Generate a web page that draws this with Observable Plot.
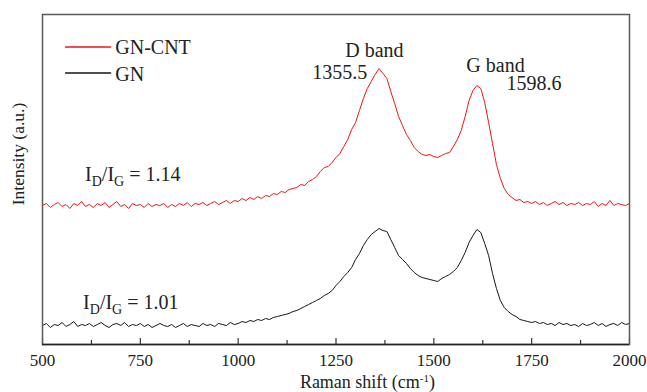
<!DOCTYPE html>
<html><head><meta charset="utf-8">
<script src="https://cdn.jsdelivr.net/npm/d3@7"></script>
<script src="https://cdn.jsdelivr.net/npm/@observablehq/plot@0.6"></script>
<style>body{margin:0;background:#fff} svg text{font-family:"Liberation Serif","DejaVu Serif","Noto Serif","Times New Roman",Times,serif !important;}</style>
</head><body><div id="chart"></div>
<script>
const shift = [
 500,510,520,530,540,550,560,570,580,590,
 600,610,620,630,640,650,660,670,680,690,
 700,710,720,730,740,750,760,770,780,790,
 800,810,820,830,840,850,860,870,880,890,
 900,910,920,930,940,950,960,970,980,990,
 1000,1010,1020,1030,1040,1050,1060,1070,1080,1090,
 1100,1110,1120,1130,1140,1150,1160,1170,1180,1190,
 1200,1210,1220,1230,1240,1250,1260,1270,1280,1290,
 1300,1310,1320,1330,1340,1350,1360,1370,1380,1390,
 1400,1410,1420,1430,1440,1450,1460,1470,1480,1490,
 1500,1510,1520,1530,1540,1550,1560,1570,1580,1590,
 1600,1610,1620,1630,1640,1650,1660,1670,1680,1690,
 1700,1710,1720,1730,1740,1750,1760,1770,1780,1790,
 1800,1810,1820,1830,1840,1850,1860,1870,1880,1890,
 1900,1910,1920,1930,1940,1950,1960,1970,1980,1990,
 2000];
const gnCnt = [
 139,141,137,140,142,138,140,136,141,139,
 143,138,140,137,141,139,142,137,140,143,
 138,140,136,141,139,140,137,141,138,140,
 139,141,137,140,138,141,139,142,138,141,
 140,142,139,141,143,140,142,144,141,144,
 143,146,144,147,145,148,146,149,148,151,
 150,153,152,155,156,157,160,159,163,165,
 168,173,177,178,182,187,191,198,205,215,
 222,234,246,256,263,270,276,271,266,253,
 241,228,219,210,204,197,193,190,189,190,
 188,187,189,191,192,198,205,214,228,244,
 254,259,256,242,222,201,180,166,156,150,
 147,144,145,142,143,141,143,140,142,139,
 141,143,140,142,139,141,140,142,139,141,
 140,143,138,141,139,144,139,141,140,139,
 141];
const gn = [
 19,21,17,20,19,22,18,20,23,18,
 20,19,21,18,20,22,19,17,20,21,
 19,22,18,20,19,21,18,20,17,19,
 21,19,18,20,17,19,21,18,20,19,
 18,21,19,20,18,21,20,19,22,20,
 21,23,22,24,23,25,24,26,25,27,
 28,29,30,31,33,34,36,38,40,42,
 44,46,49,51,54,59,63,68,72,77,
 85,91,99,105,110,113,116,114,113,105,
 97,89,85,81,76,72,69,67,66,65,
 64,63,66,68,70,73,77,84,92,102,
 109,115,112,101,89,71,56,44,37,33,
 30,28,25,24,23,22,23,21,22,20,
 21,19,22,20,21,19,20,18,21,19,
 20,22,19,21,18,20,21,19,22,20,
 21];
const majorTicks = [500,750,1000,1250,1500,1750,2000];
const minorTicks = [625,875,1125,1375,1625,1875];
const seriesNames = ["GN-CNT","GN"];
const seriesColors = ["#f01414","#161616"];
const legendLineY = [297.5, 271.5];
const legendTextY = [291, 264];
const legendLineX = [559, 674];
const legendTextX = 686;
const bandLabels = [
 {text:"D band", x:1348, y:288, anchor:"middle"},
 {text:"1355.5", x:1330, y:266, anchor:"end"},
 {text:"G band", x:1583, y:273, anchor:"start"},
 {text:"1598.6", x:1686, y:255, anchor:"start"}];
const ratioLabels = [
 {sub1:"D", sub2:"G", value:"1.14", x:610, y:163},
 {sub1:"D", sub2:"G", value:"1.01", x:605, y:35}];
const xLabelPos = 1159;
const yLabelPos = 190;

const font = '"Liberation Serif","DejaVu Serif","Noto Serif","Times New Roman",Times,serif';
const redRows = shift.map((x,i)=>({x, y:gnCnt[i]}));
const blackRows = shift.map((x,i)=>({x, y:gn[i]}));

const legendMarks = seriesNames.flatMap((name,i)=>[
  Plot.line(legendLineX.map(x=>({x, y:legendLineY[i]})), {x:"x", y:"y", stroke:seriesColors[i], strokeWidth:1.4}),
  Plot.text([name], {x:legendTextX, y:legendTextY[i], text:d=>d, textAnchor:"start", lineAnchor:"bottom", fontSize:20, fill:"#222"})
]);

const plot = Plot.plot({
  width:647, height:392,
  marginLeft:42, marginRight:18, marginTop:14, marginBottom:48,
  x:{domain:[500,2000]},
  y:{domain:[0,330], axis:null},
  style:{fontFamily:font, fontSize:"17px", background:"#fff", color:"#222"},
  marks:[
    Plot.axisX({ticks:majorTicks, tickFormat:d=>String(d), tickSize:0, tickPadding:9, label:null, fontSize:17}),
    Plot.ruleX(majorTicks, {x:d=>d, y1:0, y2:6, stroke:"#333", strokeWidth:1.2}),
    Plot.ruleX(minorTicks, {x:d=>d, y1:0, y2:4, stroke:"#333", strokeWidth:1.2}),
    Plot.line(blackRows, {x:"x", y:"y", stroke:seriesColors[1], strokeWidth:1}),
    Plot.line(redRows, {x:"x", y:"y", stroke:seriesColors[0], strokeWidth:1}),
    ...legendMarks,
    ...["start","middle","end"].map(a => Plot.text(bandLabels.filter(d=>d.anchor===a), {x:"x", y:"y", text:"text", textAnchor:a, lineAnchor:"bottom", fontSize:20, fill:"#222"})),
    Plot.frame({stroke:"#5a5a5a", strokeWidth:1.5}),
    Plot.ruleY([0], {stroke:"#222", strokeWidth:1.5})
  ]
});
document.getElementById("chart").appendChild(plot);

const sx = plot.scale("x"), sy = plot.scale("y");
const svg = d3.select(plot);
ratioLabels.forEach(r => {
  const t = svg.append("text").attr("x", sx.apply(r.x)).attr("y", sy.apply(r.y))
    .attr("text-anchor","start").attr("font-size", 20).attr("fill", "#222").style("white-space","pre");
  t.append("tspan").text("I");
  t.append("tspan").attr("font-size", 14).attr("dy", 5).text(r.sub1);
  t.append("tspan").attr("dy", -5).text("/I");
  t.append("tspan").attr("font-size", 14).attr("dy", 5).text(r.sub2);
  t.append("tspan").attr("dy", -5).text(" = " + r.value);
});
const xl = svg.append("text").attr("x", sx.apply(xLabelPos)).attr("y", 388)
  .attr("text-anchor","start").attr("font-size", 18).attr("fill", "#222");
xl.append("tspan").text("Raman shift (cm");
xl.append("tspan").attr("font-size", 11).attr("dy", -6).text("-1");
xl.append("tspan").attr("dy", 6).text(")");
svg.append("text").attr("transform", `translate(24,${sy.apply(yLabelPos)}) rotate(-90)`)
  .attr("text-anchor","middle").attr("font-size", 17.5).attr("fill", "#222")
  .text("Intensity (a.u.)");
</script>
</body></html>
